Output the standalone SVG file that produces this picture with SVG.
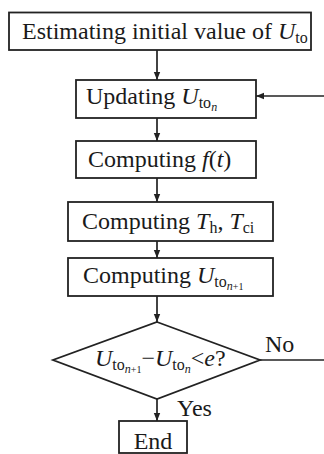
<svg xmlns="http://www.w3.org/2000/svg" width="324" height="454" viewBox="0 0 324 454">
  <style>
    .box { fill: #fff; stroke: #222; stroke-width: 1.8; }
    .line { fill: none; stroke: #222; stroke-width: 1.7; }
    text { font-family: "Liberation Serif", "Times New Roman", serif; font-size: 24px; fill: #1a1a1a; }
    .it { font-style: italic; }
    .sub { font-size: 16px; }
    .sub2 { font-size: 12px; font-style: italic; }
    .sub3 { font-size: 10px; }
  </style>
  <defs>
    <marker id="arrow" viewBox="0 0 10 10" refX="10" refY="5" markerWidth="8" markerHeight="9" markerUnits="userSpaceOnUse" orient="auto">
      <path d="M0,1 L10,5 L0,9 Z" fill="#222"/>
    </marker>
  </defs>
  <rect width="324" height="454" fill="#fff"/>

  <g id="connectors">
    <line class="line" x1="157" y1="50" x2="157" y2="80" marker-end="url(#arrow)"/>
    <line class="line" x1="157" y1="118" x2="157" y2="141" marker-end="url(#arrow)"/>
    <line class="line" x1="157" y1="178" x2="157" y2="202" marker-end="url(#arrow)"/>
    <line class="line" x1="157" y1="241" x2="157" y2="258" marker-end="url(#arrow)"/>
    <line class="line" x1="157" y1="296" x2="157" y2="322" marker-end="url(#arrow)"/>
    <line class="line" x1="157" y1="399" x2="157" y2="421" marker-end="url(#arrow)"/>
    <line class="line" x1="260" y1="360" x2="324" y2="360"/>
    <line class="line" x1="324" y1="96" x2="256" y2="96" marker-end="url(#arrow)"/>
    <text x="265" y="352">No</text>
    <text x="177" y="416">Yes</text>
  </g>

  <g id="estimate">
    <rect class="box" x="9" y="12.5" width="302" height="37.5"/>
    <text x="22" y="39">Estimating initial value of <tspan class="it">U</tspan><tspan class="sub" dy="4">to</tspan></text>
  </g>

  <g id="update">
    <rect class="box" x="76" y="80" width="180" height="38"/>
    <text x="86" y="104">Updating <tspan class="it">U</tspan><tspan class="sub" dy="4">to</tspan><tspan class="sub2" dy="3">n</tspan></text>
  </g>

  <g id="compute-f">
    <rect class="box" x="76" y="141" width="180" height="37"/>
    <text x="88" y="167">Computing <tspan class="it">f</tspan>(<tspan class="it">t</tspan>)</text>
  </g>

  <g id="compute-t">
    <rect class="box" x="68" y="202" width="205" height="39"/>
    <text x="82" y="229">Computing <tspan class="it">T</tspan><tspan class="sub" dy="4">h</tspan><tspan dy="-4">, </tspan><tspan class="it">T</tspan><tspan class="sub" dy="4">ci</tspan></text>
  </g>

  <g id="compute-u">
    <rect class="box" x="68" y="258" width="205" height="38"/>
    <text x="83" y="283">Computing <tspan class="it">U</tspan><tspan class="sub" dy="4">to</tspan><tspan class="sub2" dy="3">n</tspan><tspan class="sub3">+1</tspan></text>
  </g>

  <g id="check">
    <polygon class="box" points="157,322 260,360 157,399 53,360"/>
    <text x="95" y="366"><tspan class="it">U</tspan><tspan class="sub" dy="4">to</tspan><tspan class="sub2" dy="3">n</tspan><tspan class="sub3">+1</tspan><tspan dy="-7">−</tspan><tspan class="it">U</tspan><tspan class="sub" dy="4">to</tspan><tspan class="sub2" dy="3">n</tspan><tspan dy="-7">&lt;</tspan><tspan class="it">e</tspan>?</text>
  </g>

  <g id="end">
    <rect class="box" x="119" y="421" width="68" height="32"/>
    <text x="153" y="449" text-anchor="middle">End</text>
  </g>
</svg>
